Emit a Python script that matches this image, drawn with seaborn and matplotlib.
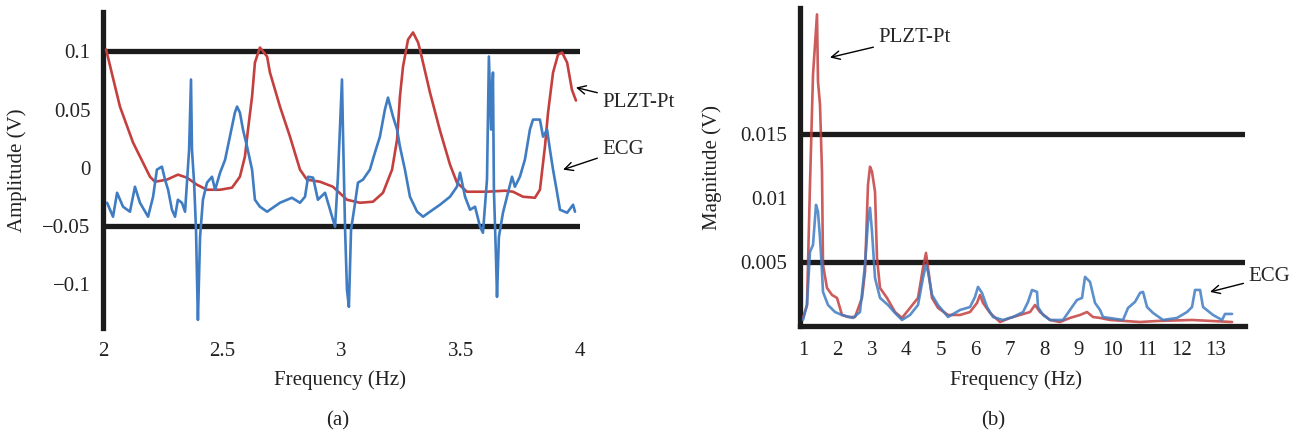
import matplotlib
matplotlib.use("Agg")
import matplotlib.pyplot as plt
import seaborn as sns
import pandas as pd

# ---------------- data: panel (a) ----------------
a_plzt_x = [2.013, 2.071, 2.126, 2.197, 2.218, 2.268, 2.314, 2.352, 2.394, 2.436, 2.491, 2.541,
            2.574, 2.595, 2.608, 2.625, 2.637, 2.658, 2.688, 2.700, 2.742, 2.784, 2.826, 2.855,
            2.910, 2.964, 3.023, 3.078, 3.132, 3.174, 3.212, 3.233, 3.245, 3.258, 3.279, 3.300,
            3.321, 3.329, 3.371, 3.413, 3.455, 3.484, 3.526, 3.610, 3.686, 3.719, 3.761, 3.811,
            3.832, 3.853, 3.866, 3.887, 3.908, 3.925, 3.946, 3.966, 3.983]
a_plzt_y = [0.1017, 0.0526, 0.0216, -0.0078, -0.0121, -0.0103, -0.0060, -0.0086, -0.0147, -0.0190,
            -0.0190, -0.0172, -0.0078, 0.0095, 0.0328, 0.0612, 0.0905, 0.1034, 0.0957, 0.0819,
            0.0526, 0.0267, -0.0017, -0.0103, -0.0121, -0.0164, -0.0276, -0.0302, -0.0293, -0.0216,
            -0.0017, 0.0241, 0.0612, 0.0871, 0.1103, 0.1164, 0.1078, 0.1017, 0.0647, 0.0319,
            0.0026, -0.0129, -0.0207, -0.0207, -0.0198, -0.0207, -0.0250, -0.0259, -0.0190, 0.0181,
            0.0474, 0.0819, 0.0974, 0.0991, 0.0905, 0.0672, 0.0578]

a_ecg_x = [2.017, 2.042, 2.059, 2.084, 2.113, 2.134, 2.155, 2.189, 2.210, 2.226, 2.247, 2.260,
           2.273, 2.289, 2.302, 2.314, 2.331, 2.344, 2.352, 2.361, 2.369, 2.373, 2.382, 2.390,
           2.394, 2.398, 2.407, 2.419, 2.436, 2.457, 2.470, 2.491, 2.512, 2.532, 2.553, 2.562,
           2.574, 2.587, 2.604, 2.625, 2.637, 2.658, 2.688, 2.742, 2.792, 2.826, 2.847, 2.860,
           2.881, 2.901, 2.931, 2.952, 2.973, 2.985, 3.002, 3.006, 3.015, 3.023, 3.031, 3.040,
           3.057, 3.069, 3.090, 3.119, 3.140, 3.161, 3.182, 3.195, 3.216, 3.233, 3.245, 3.266,
           3.287, 3.317, 3.342, 3.371, 3.413, 3.455, 3.484, 3.497, 3.518, 3.539, 3.560, 3.581,
           3.593, 3.610, 3.618, 3.627, 3.635, 3.639, 3.648, 3.652, 3.660, 3.677, 3.698, 3.715,
           3.727, 3.748, 3.769, 3.790, 3.803, 3.832, 3.845, 3.862, 3.874, 3.887, 3.904, 3.916,
           3.946, 3.971, 3.979]
a_ecg_y = [-0.0302, -0.0422, -0.0216, -0.0336, -0.0379, -0.0164, -0.0302, -0.0422, -0.0250, -0.0017,
           0.0009, -0.0103, -0.0190, -0.0362, -0.0422, -0.0276, -0.0302, -0.0379, -0.0129, 0.0155,
           0.0759, 0.0155, -0.0129, -0.0534, -0.0940, -0.1310, -0.0595, -0.0276, -0.0129, -0.0078,
           -0.0190, -0.0043, 0.0069, 0.0267, 0.0474, 0.0526, 0.0474, 0.0328, 0.0181, -0.0017,
           -0.0276, -0.0336, -0.0379, -0.0302, -0.0259, -0.0302, -0.0250, -0.0078, -0.0086, -0.0276,
           -0.0216, -0.0362, -0.0509, -0.0078, 0.0759, 0.0328, -0.0534, -0.1052, -0.1198, -0.0534,
           -0.0302, -0.0129, -0.0103, -0.0017, 0.0129, 0.0267, 0.0500, 0.0603, 0.0440, 0.0328,
           0.0181, -0.0017, -0.0250, -0.0379, -0.0422, -0.0379, -0.0319, -0.0250, -0.0164, -0.0043,
           -0.0250, -0.0362, -0.0336, -0.0509, -0.0560, -0.0103, 0.0957, 0.0328, 0.0819, -0.0190,
           -0.0793, -0.1112, -0.0595, -0.0388, -0.0216, -0.0078, -0.0164, -0.0078, 0.0069, 0.0328,
           0.0414, 0.0414, 0.0267, 0.0328, 0.0155, -0.0017, -0.0216, -0.0362, -0.0388, -0.0319,
           -0.0379]

a_xticks = [2, 2.5, 3, 3.5, 4]
a_xticklabels = ["2", "2.5", "3", "3.5", "4"]
a_yticks = [0.1, 0.05, 0, -0.05, -0.1]
a_yticklabels = ["0.1", "0.05", "0", "\u22120.05", "\u22120.1"]
a_reflines = [0.1, -0.05]

# ---------------- data: panel (b) ----------------
b_plzt_x = [1.000, 1.116, 1.203, 1.291, 1.407, 1.436, 1.494, 1.552, 1.581, 1.697, 1.843, 1.988,
            2.133, 2.307, 2.511, 2.714, 2.801, 2.888, 2.947, 3.005, 3.092, 3.150, 3.237, 3.440,
            3.673, 3.876, 4.109, 4.341, 4.486, 4.573, 4.632, 4.748, 4.922, 5.213, 5.561, 5.852,
            6.055, 6.142, 6.229, 6.433, 6.723, 7.014, 7.304, 7.595, 7.740, 7.885, 8.176, 8.466,
            8.757, 9.048, 9.251, 9.425, 9.629, 9.919, 10.791, 11.285, 12.301, 13.464]
b_plzt_y = [0.00063, 0.00164, 0.01102, 0.01961, 0.02430, 0.01906, 0.01727, 0.01203, 0.00477, 0.00297,
            0.00242, 0.00219, 0.00086, 0.00070, 0.00070, 0.00219, 0.00422, 0.01102, 0.01242, 0.01203,
            0.01047, 0.00531, 0.00297, 0.00219, 0.00109, 0.00063, 0.00141, 0.00219, 0.00453, 0.00570,
            0.00453, 0.00219, 0.00141, 0.00086, 0.00086, 0.00109, 0.00180, 0.00242, 0.00180, 0.00102,
            0.00031, 0.00063, 0.00086, 0.00109, 0.00164, 0.00109, 0.00047, 0.00031, 0.00063, 0.00086,
            0.00109, 0.00070, 0.00063, 0.00047, 0.00031, 0.00039, 0.00047, 0.00031]

b_ecg_x = [1.000, 1.116, 1.203, 1.291, 1.378, 1.436, 1.494, 1.552, 1.581, 1.726, 1.930, 2.133,
           2.453, 2.656, 2.801, 2.888, 2.947, 3.005, 3.092, 3.237, 3.469, 3.673, 3.876, 4.109,
           4.341, 4.486, 4.573, 4.632, 4.748, 4.922, 5.213, 5.561, 5.852, 5.997, 6.084, 6.200,
           6.346, 6.520, 6.811, 7.101, 7.392, 7.537, 7.653, 7.798, 7.827, 7.973, 8.176, 8.554,
           8.815, 8.960, 9.106, 9.193, 9.338, 9.483, 9.629, 9.716, 10.297, 10.442, 10.645, 10.791,
           10.878, 10.994, 11.168, 11.459, 11.866, 12.156, 12.301, 12.389, 12.534, 12.621, 12.911,
           13.173, 13.260, 13.464]
b_ecg_y = [0.00047, 0.00164, 0.00578, 0.00633, 0.00945, 0.00891, 0.00688, 0.00422, 0.00266, 0.00164,
           0.00109, 0.00086, 0.00063, 0.00109, 0.00477, 0.00813, 0.00922, 0.00734, 0.00375, 0.00219,
           0.00164, 0.00102, 0.00047, 0.00086, 0.00164, 0.00375, 0.00477, 0.00422, 0.00242, 0.00164,
           0.00070, 0.00125, 0.00148, 0.00227, 0.00305, 0.00258, 0.00148, 0.00070, 0.00047, 0.00070,
           0.00109, 0.00188, 0.00281, 0.00266, 0.00148, 0.00086, 0.00047, 0.00047, 0.00148, 0.00203,
           0.00219, 0.00383, 0.00344, 0.00180, 0.00125, 0.00070, 0.00047, 0.00141, 0.00188, 0.00258,
           0.00266, 0.00148, 0.00102, 0.00047, 0.00063, 0.00109, 0.00148, 0.00281, 0.00281, 0.00148,
           0.00086, 0.00047, 0.00094, 0.00094]

b_xticks = list(range(1, 14))
b_xticklabels = [str(v) for v in b_xticks]
b_yticks = [0.005, 0.01, 0.015]
b_yticklabels = ["0.005", "0.01", "0.015"]
b_reflines = [0.015, 0.005]

# ---------------- style ----------------
sns.set_theme(style="white")
plt.rcParams["font.family"] = ["Liberation Serif", "DejaVu Serif"]
plt.rcParams["axes.unicode_minus"] = True

RED = "#c4403f"
BLUE = "#3f7cc2"
BLACK = "#1b1b1b"
TXT = "#222222"
FS = 15
LW = 1.9

fig = plt.figure(figsize=(13.0, 4.36), dpi=100)
ax1 = fig.add_axes([103 / 1300, 108 / 436, 477 / 1300, 316 / 436])
ax2 = fig.add_axes([800 / 1300, 110 / 436, 445 / 1300, 318 / 436])

# ---- panel (a)
df_a_p = pd.DataFrame({"f": a_plzt_x, "v": a_plzt_y})
df_a_e = pd.DataFrame({"f": a_ecg_x, "v": a_ecg_y})
for y in a_reflines:
    ax1.axhline(y, color=BLACK, lw=3.8, zorder=1, solid_capstyle="butt")
sns.lineplot(data=df_a_p, x="f", y="v", ax=ax1, color=RED, lw=LW, estimator=None, sort=False, zorder=3)
sns.lineplot(data=df_a_e, x="f", y="v", ax=ax1, color=BLUE, lw=LW, estimator=None, sort=False, zorder=4)
ax1.set_xlim(2, 4.0)
ax1.set_ylim(-0.138, 0.134)
ax1.set_xticks(a_xticks)
ax1.set_xticklabels(a_xticklabels)
ax1.set_yticks(a_yticks)
ax1.set_yticklabels(a_yticklabels)
for s in ["top", "right", "bottom"]:
    ax1.spines[s].set_visible(False)
ax1.spines["left"].set_linewidth(3.8)
ax1.spines["left"].set_color(BLACK)
ax1.tick_params(axis="both", length=0, labelsize=FS, colors=TXT)
ax1.tick_params(axis="y", pad=9)
ax1.tick_params(axis="x", pad=10)
ax1.set_xlabel("Frequency (Hz)", fontsize=FS, color=TXT)
ax1.set_ylabel("Amplitude (V)", fontsize=FS, color=TXT)
ax1.xaxis.set_label_coords(0.497, -0.135)
ax1.yaxis.set_label_coords(-0.16, 0.5)
ax1.annotate("PLZT-Pt", xy=(3.983, 0.069), xytext=(4.092, 0.056), fontsize=FS,
             ha="left", va="center", annotation_clip=False,
             arrowprops=dict(arrowstyle="->", color="black", lw=1.0, shrinkA=1, shrinkB=0))
ax1.annotate("ECG", xy=(3.929, -0.0017), xytext=(4.092, 0.0155), fontsize=FS,
             ha="left", va="center", annotation_clip=False,
             arrowprops=dict(arrowstyle="->", color="black", lw=1.0, shrinkA=1, shrinkB=0))

# ---- panel (b)
df_b_p = pd.DataFrame({"f": b_plzt_x, "m": b_plzt_y})
df_b_e = pd.DataFrame({"f": b_ecg_x, "m": b_ecg_y})
for y in b_reflines:
    ax2.axhline(y, color=BLACK, lw=3.8, zorder=1, solid_capstyle="butt")
sns.lineplot(data=df_b_p, x="f", y="m", ax=ax2, color=RED, lw=LW, estimator=None, sort=False, zorder=3, alpha=0.85)
sns.lineplot(data=df_b_e, x="f", y="m", ax=ax2, color=BLUE, lw=LW, estimator=None, sort=False, zorder=4, alpha=0.85)
ax2.set_xlim(0.913, 13.84)
ax2.set_ylim(0, 0.0248)
ax2.set_xticks(b_xticks)
ax2.set_xticklabels(b_xticklabels)
ax2.set_yticks(b_yticks)
ax2.set_yticklabels(b_yticklabels)
for s in ["top", "right"]:
    ax2.spines[s].set_visible(False)
for s in ["left", "bottom"]:
    ax2.spines[s].set_linewidth(3.8)
    ax2.spines[s].set_color(BLACK)
ax2.tick_params(axis="both", length=0, labelsize=FS, colors=TXT)
ax2.tick_params(axis="y", pad=9)
ax2.tick_params(axis="x", pad=11)
ax2.set_xlabel("Frequency (Hz)", fontsize=FS, color=TXT)
ax2.set_ylabel("Magnitude (V)", fontsize=FS, color=TXT)
ax2.xaxis.set_label_coords(0.485, -0.14)
ax2.yaxis.set_label_coords(-0.175, 0.5)
ax2.annotate("PLZT-Pt", xy=(1.784, 0.02094), xytext=(3.179, 0.0225), fontsize=FS,
             ha="left", va="center", annotation_clip=False,
             arrowprops=dict(arrowstyle="->", color="black", lw=1.0, shrinkA=1, shrinkB=0))
ax2.annotate("ECG", xy=(12.824, 0.00266), xytext=(13.928, 0.00383), fontsize=FS,
             ha="left", va="center", annotation_clip=False,
             arrowprops=dict(arrowstyle="->", color="black", lw=1.0, shrinkA=1, shrinkB=0))

fig.text(338 / 1300, 1 - 421 / 436, "(a)", fontsize=FS, ha="center", va="center", color=TXT)
fig.text(993 / 1300, 1 - 421 / 436, "(b)", fontsize=FS, ha="center", va="center", color=TXT)

fig.savefig("out.png", dpi=100, facecolor="white")
